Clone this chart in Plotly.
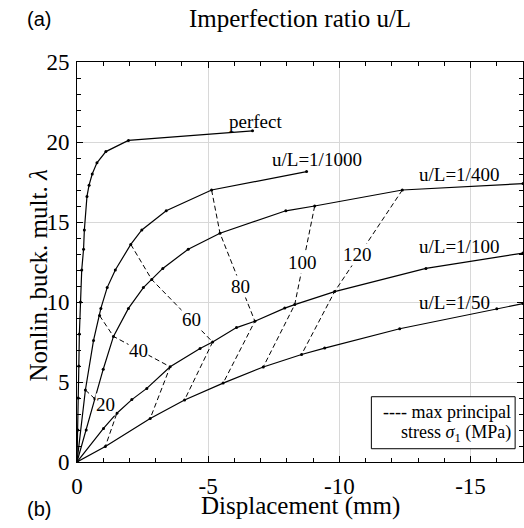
import plotly.graph_objects as go

# ---------------- data ----------------
perfect_x = [0, -0.03, -0.05, -0.07, -0.09, -0.13, -0.18, -0.25, -0.28, -0.38, -0.46, -0.58, -0.76, -1.1, -1.96, -6.69]
perfect_y = [0, 2.0, 4.0, 6.0, 8.0, 10.0, 12.0, 13.3, 14.5, 16.6, 17.3, 18.0, 18.7, 19.4, 20.1, 20.7]

r1000_x = [0, -0.32, -0.63, -0.86, -0.91, -1.15, -1.46, -2.05, -2.47, -3.4, -5.13, -8.75]
r1000_y = [0, 4.5, 7.6, 9.15, 9.6, 10.9, 12.0, 13.6, 14.5, 15.7, 17.0, 18.15]

r400_x = [0, -0.35, -0.68, -1.0, -1.39, -1.96, -2.53, -2.85, -3.27, -4.24, -5.45, -7.96, -9.06, -12.4, -17.0]
r400_y = [0, 2.0, 3.95, 5.8, 7.85, 9.6, 10.9, 11.4, 12.1, 13.3, 14.3, 15.7, 16.0, 17.0, 17.4]

r100_x = [0, -1.01, -1.52, -2.09, -2.66, -3.55, -4.69, -5.17, -6.08, -6.78, -7.92, -8.3, -9.82, -13.3, -17.0]
r100_y = [0, 2.1, 3.05, 3.9, 4.6, 5.95, 7.1, 7.5, 8.4, 8.8, 9.62, 9.84, 10.65, 12.1, 13.06]

r50_x = [0, -1.08, -2.79, -4.1, -5.57, -7.1, -8.56, -9.44, -12.3, -16.0, -17.0]
r50_y = [0, 0.97, 2.72, 3.88, 4.93, 5.94, 6.72, 7.12, 8.33, 9.58, 9.9]

# stress contours (MPa)
c20_x = [-0.32, -0.68, -1.52, -1.08];  c20_y = [4.5, 3.95, 3.05, 0.97]
c40_x = [-0.86, -1.39, -3.55, -2.79];  c40_y = [9.15, 7.85, 5.95, 2.72]
c60_x = [-2.05, -2.85, -5.17, -4.1];   c60_y = [13.6, 11.4, 7.5, 3.88]
c80_x = [-5.13, -5.45, -6.78, -5.57];  c80_y = [17.0, 14.3, 8.8, 4.93]
c100_x = [-9.06, -8.3, -7.1];          c100_y = [16.0, 9.84, 5.94]
c120_x = [-12.4, -9.82, -8.56];        c120_y = [17.0, 10.65, 6.72]

contour_labels = ["20", "40", "60", "80", "100", "120"]
contour_label_x = [-1.08, -2.33, -4.37, -6.22, -8.6, -10.7]
contour_label_y = [3.6, 7.0, 8.9, 10.95, 12.45, 12.95]

curve_labels = ["perfect", "u/L=1/1000", "u/L=1/400", "u/L=1/100", "u/L=1/50"]
curve_label_x = [-6.79, -9.16, -14.55, -14.55, -14.38]
curve_label_y = [21.3, 18.9, 17.96, 13.46, 9.96]

x_ticks = [0, -5, -10, -15]
x_ticktext = ["0", "-5", "-10", "-15"]
y_ticks = [0, 5, 10, 15, 20, 25]

SERIF = "Liberation Serif"
SANS = "Liberation Sans"

fig = go.Figure()

curves = [(perfect_x, perfect_y), (r1000_x, r1000_y), (r400_x, r400_y), (r100_x, r100_y), (r50_x, r50_y)]
for cx, cy in curves:
    fig.add_trace(go.Scatter(x=cx, y=cy, mode="lines+markers",
                             line=dict(color="black", width=1.2),
                             marker=dict(color="black", size=3),
                             showlegend=False, hoverinfo="skip"))

contours = [(c20_x, c20_y), (c40_x, c40_y), (c60_x, c60_y), (c80_x, c80_y), (c100_x, c100_y), (c120_x, c120_y)]
for cx, cy in contours:
    fig.add_trace(go.Scatter(x=cx, y=cy, mode="lines",
                             line=dict(color="black", width=1, dash="5px,3px"),
                             showlegend=False, hoverinfo="skip"))

for t, lx, ly in zip(contour_labels, contour_label_x, contour_label_y):
    fig.add_annotation(x=lx, y=ly, text=t, showarrow=False, bgcolor="white",
                       borderpad=0, font=dict(family=SERIF, size=19, color="black"))

for t, lx, ly in zip(curve_labels, curve_label_x, curve_label_y):
    fig.add_annotation(x=lx, y=ly, text=t, showarrow=False,
                       font=dict(family=SERIF, size=19, color="black"))

# legend box
fig.add_shape(type="rect", xref="x", yref="y", x0=-11.22, x1=-16.7, y0=0.83, y1=4.08,
              line=dict(color="black", width=1), fillcolor="white", layer="above")
fig.add_annotation(x=-16.6, y=3.1, xanchor="right", text="---- max principal", showarrow=False,
                   font=dict(family=SERIF, size=18, color="black"))
fig.add_annotation(x=-16.6, y=1.8, xanchor="right", text="stress <i>σ</i><sub>1</sub> (MPa)", showarrow=False,
                   font=dict(family=SERIF, size=18, color="black"))

# titles and panel labels
fig.add_annotation(xref="paper", yref="paper", x=0.5, y=1, yshift=44, yanchor="middle",
                   text="Imperfection ratio u/L", showarrow=False,
                   font=dict(family=SERIF, size=25, color="black"))
fig.add_annotation(xref="paper", yref="paper", x=0, xshift=-52, y=1, yshift=43, yanchor="middle",
                   text="(a)", showarrow=False, font=dict(family=SANS, size=20, color="black"))
fig.add_annotation(xref="paper", yref="paper", x=0, xshift=-52, y=0, yshift=-47, yanchor="middle",
                   text="(b)", showarrow=False, font=dict(family=SANS, size=20, color="black"))
fig.add_annotation(xref="paper", yref="paper", x=0.5, y=0, yshift=-44, yanchor="middle",
                   text="Displacement (mm)", showarrow=False,
                   font=dict(family=SERIF, size=25, color="black"))
fig.add_annotation(xref="paper", yref="paper", x=0, xshift=-55, y=0.465, textangle=-90,
                   text="Nonlin. buck. mult. <i>λ</i>", showarrow=False,
                   font=dict(family=SERIF, size=25, color="black"))

axis_common = dict(showline=True, linecolor="black", linewidth=1, mirror="ticks",
                   ticks="inside", ticklen=6, tickcolor="black", tickwidth=1,
                   showgrid=True, gridcolor="#d8d8d8", gridwidth=1, zeroline=False,
                   tickfont=dict(family=SERIF, size=23, color="black"))

fig.update_xaxes(range=[0, -17], tickmode="array", tickvals=x_ticks, ticktext=x_ticktext,
                 minor=dict(tickmode="linear", tick0=0, dtick=1, ticks="inside", ticklen=4,
                            tickcolor="black", showgrid=False),
                 ticklabelstandoff=3, **axis_common)
fig.update_yaxes(range=[0, 25], tickmode="array", tickvals=y_ticks,
                 minor=dict(tickmode="linear", tick0=0, dtick=1, ticks="inside", ticklen=4,
                            tickcolor="black", showgrid=False),
                 ticklabelstandoff=2, **axis_common)

fig.update_layout(width=524, height=528, margin=dict(l=77, r=1, t=62, b=66),
                  font=dict(family=SERIF, color="black"),
                  plot_bgcolor="white", paper_bgcolor="white", showlegend=False)

fig.write_html("out.html")
